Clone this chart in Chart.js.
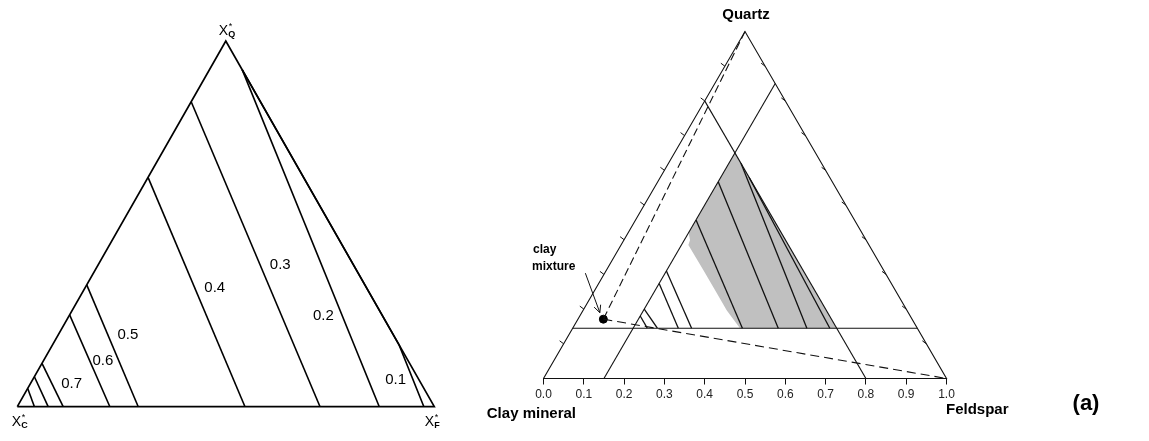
<!DOCTYPE html>
<html>
<head>
<meta charset="utf-8">
<script src="https://cdn.jsdelivr.net/npm/chart.js@4"></script>
<style>
  html, body { margin: 0; padding: 0; background: #fff; }
  #wrap { position: relative; width: 1149px; height: 441px; }
  canvas { position: absolute; top: 0; }
  #left { left: 0; }
  #right { left: 470px; }
</style>
</head>
<body>
<div id="wrap">
  <canvas id="left" width="470" height="441"></canvas>
  <canvas id="right" width="679" height="441"></canvas>
</div>
<script>
const FONT = '"Liberation Sans", Arial, sans-serif';

// Compositions are written as [quartz, feldspar]; clay is the remainder.
// Left diagram: contour lines, upper end first.
const leftTieValues = ['', '', '0.7', '0.6', '0.5', '0.4', '0.3', '0.2', '0.1'];
const leftTieLines = [
    [[0.050, 0], [0, 0.041]],
    [[0.082, 0], [0, 0.074]],
    [[0.1185, 0], [0, 0.110]],
    [[0.251, 0], [0, 0.222]],
    [[0.333, 0], [0, 0.290]],
    [[0.627, 0], [0, 0.546]],
    [[0.834, 0], [0, 0.726]],
    [[0.921, 0.079], [0, 0.868]],
    [[0.921, 0.079], [0.169, 0.831], [0, 0.975]]
];

// Right diagram
const baseTicks = [0.0, 0.1, 0.2, 0.3, 0.4, 0.5, 0.6, 0.7, 0.8, 0.9, 1.0];
const edgeTicks = [0.1, 0.2, 0.3, 0.4, 0.5, 0.6, 0.7, 0.8, 0.9];
const quartzCut = [[0.145, 0], [0.145, 0.855]];
const feldsparCut = [[0, 0.15], [0.85, 0.15]];
const clayCut = [[0, 0.8], [0.8, 0]];
const grayField = [
    [0.65, 0.15], [0.42, 0.15], [0.399, 0.164], [0.385, 0.167], [0.313, 0.240],
    [0.255, 0.298], [0.197, 0.356], [0.145, 0.415], [0.145, 0.655], [0.65, 0.15]
];
const rightTieLines = [
    [[0.18, 0.15], [0.145, 0.185]],
    [[0.20, 0.15], [0.145, 0.21]],
    [[0.274, 0.15], [0.145, 0.262]],
    [[0.31, 0.15], [0.145, 0.295]],
    [[0.457, 0.15], [0.145, 0.421]],
    [[0.567, 0.15], [0.145, 0.510]],
    [[0.62, 0.18], [0.145, 0.581]],
    [[0.58, 0.22], [0.145, 0.638]]
];
const clayMixture = [0.171, 0.063];

const frame = [[0, 0], [0, 1], [1, 0], [0, 0]];

// Ternary composition -> plot coordinates (x along the base, y = quartz)
function toPoint(c) {
    return { x: c[1] + c[0] / 2, y: c[0] };
}

function lineSet(comps, opts) {
    return Object.assign({
        data: comps.map(toPoint),
        borderColor: '#000',
        borderWidth: 1.6,
        pointRadius: 0,
        fill: false,
        clip: false,
        tension: 0
    }, opts);
}

// x position (plot units) on a polyline at a given quartz level
function xOnLine(line, q) {
    for (let i = 0; i < line.length - 1; i++) {
        const a = line[i], b = line[i + 1];
        if ((q <= a[0] && q >= b[0]) || (q >= a[0] && q <= b[0])) {
            const t = (q - a[0]) / (b[0] - a[0]);
            return toPoint([q, a[1] + t * (b[1] - a[1])]).x;
        }
    }
    return toPoint(line[line.length - 1]).x;
}

const hiddenScales = {
    x: { type: 'linear', min: 0, max: 1, display: false },
    y: { type: 'linear', min: 0, max: 1, display: false }
};

// Where the contour values sit: quartz level and sideways shift in px
const leftLabelSpots = [null, null,
    { q: 0.062, dx: 19.5 }, { q: 0.125, dx: 13 }, { q: 0.196, dx: 20 },
    { q: 0.325, dx: 20 }, { q: 0.387, dx: 20 }, { q: 0.248, dx: -19 }, { q: 0.073, dx: -17.5 }];

function drawVariable(ctx, sub, left, baseline) {
    ctx.font = '14px ' + FONT;
    ctx.textAlign = 'left';
    ctx.textBaseline = 'alphabetic';
    ctx.fillText('X', left, baseline);
    const w = ctx.measureText('X').width;
    ctx.font = '9px ' + FONT;
    ctx.fillText('*', left + w + 0.5, baseline - 6);
    ctx.font = 'bold 9px ' + FONT;
    ctx.fillText(sub, left + w, baseline + 2);
}

const leftLabels = {
    id: 'leftLabels',
    afterDatasetsDraw(chart) {
        const { ctx, scales: { x, y } } = chart;
        ctx.save();
        ctx.fillStyle = '#000';
        ctx.font = '15px ' + FONT;
        ctx.textAlign = 'center';
        ctx.textBaseline = 'middle';
        leftTieValues.forEach((txt, i) => {
            if (!txt) return;
            const spot = leftLabelSpots[i];
            const px = x.getPixelForValue(xOnLine(leftTieLines[i], spot.q)) + spot.dx;
            ctx.fillText(txt, px, y.getPixelForValue(spot.q));
        });
        const top = toPoint([1, 0]), lo = toPoint([0, 0]), hi = toPoint([0, 1]);
        drawVariable(ctx, 'Q', x.getPixelForValue(top.x) - 7, y.getPixelForValue(top.y) - 6);
        drawVariable(ctx, 'C', x.getPixelForValue(lo.x) - 5.5, y.getPixelForValue(0) + 19.5);
        drawVariable(ctx, 'F', x.getPixelForValue(hi.x) - 9.5, y.getPixelForValue(0) + 19.5);
        ctx.restore();
    }
};

new Chart(document.getElementById('left'), {
    type: 'line',
    data: {
        datasets: [lineSet(frame, { borderWidth: 1.7 })]
            .concat(leftTieLines.map(l => lineSet(l)))
    },
    options: {
        responsive: false,
        animation: false,
        events: [],
        layout: { padding: { left: 17.3, right: 35.7, top: 41, bottom: 34.3 } },
        scales: hiddenScales,
        plugins: { legend: { display: false }, tooltip: { enabled: false } }
    },
    plugins: [leftLabels]
});

const rightDecor = {
    id: 'rightDecor',
    afterDatasetsDraw(chart) {
        const { ctx, scales: { x, y } } = chart;
        const px = c => x.getPixelForValue(toPoint(c).x);
        const py = c => y.getPixelForValue(toPoint(c).y);
        ctx.save();
        ctx.strokeStyle = '#111';
        ctx.lineWidth = 1;
        // small ticks on the two sloping sides
        edgeTicks.forEach(q => {
            const l = [q, 0], r = [q, 1 - q];
            ctx.beginPath();
            ctx.moveTo(px(l), py(l));
            ctx.lineTo(px(l) - 4, py(l) - 3);
            ctx.moveTo(px(r), py(r));
            ctx.lineTo(px(r) - 4, py(r) - 3);
            ctx.stroke();
        });
        // arrow pointing at the mixture
        const dx = px(clayMixture), dy = py(clayMixture);
        const tip = [dx - 3.5, dy - 6.5], tail = [dx - 18, dy - 46];
        const ang = Math.atan2(tip[1] - tail[1], tip[0] - tail[0]);
        ctx.beginPath();
        ctx.moveTo(tail[0], tail[1]);
        ctx.lineTo(tip[0], tip[1]);
        [-0.45, 0.45].forEach(a => {
            ctx.moveTo(tip[0], tip[1]);
            ctx.lineTo(tip[0] - 8 * Math.cos(ang + a), tip[1] - 8 * Math.sin(ang + a));
        });
        ctx.stroke();

        ctx.fillStyle = '#000';
        ctx.font = 'bold 12px ' + FONT;
        ctx.textAlign = 'left';
        ctx.textBaseline = 'alphabetic';
        ctx.fillText('clay', 63, 253);
        ctx.fillText('mixture', 62, 270);

        ctx.font = 'bold 15px ' + FONT;
        ctx.textAlign = 'center';
        ctx.textBaseline = 'middle';
        ctx.fillText('Quartz', px([1, 0]) + 1, 15);
        ctx.textAlign = 'right';
        ctx.fillText('Clay mineral', x.getPixelForValue(0) + 32.5, 414);
        ctx.textAlign = 'left';
        ctx.fillText('Feldspar', x.getPixelForValue(1) - 0.5, 410);
        ctx.font = 'bold 22px ' + FONT;
        ctx.textAlign = 'center';
        ctx.fillText('(a)', 616, 404);
        ctx.restore();
    }
};

const mixPoint = [toPoint(clayMixture)];

new Chart(document.getElementById('right'), {
    type: 'line',
    data: {
        datasets: [
            lineSet(frame, { borderWidth: 1.1, borderColor: '#111' }),
            lineSet(quartzCut, { borderWidth: 1.1, borderColor: '#111' }),
            lineSet(feldsparCut, { borderWidth: 1.1, borderColor: '#111' }),
            lineSet(clayCut, { borderWidth: 1.1, borderColor: '#111' }),
            lineSet([[1, 0], clayMixture], { borderWidth: 1.1, borderColor: '#111', borderDash: [8, 4] }),
            lineSet([clayMixture, [0, 1]], { borderWidth: 1.1, borderColor: '#111', borderDash: [9, 5] }),
            {
                data: mixPoint, showLine: false, pointRadius: 4, pointBackgroundColor: '#000',
                pointBorderColor: '#000', clip: false
            }
        ].concat(rightTieLines.map(l => lineSet(l, { borderWidth: 1.3, borderColor: '#111' })))
         .concat([lineSet(grayField, {
            borderWidth: 0, borderColor: 'rgba(0,0,0,0)', backgroundColor: '#c0c0c0',
            fill: 'shape', order: 10
         })])
    },
    options: {
        responsive: false,
        animation: false,
        events: [],
        layout: { padding: { left: 73.5, right: 202.5, top: 31.5, bottom: 22.5 } },
        scales: {
            x: {
                type: 'linear', min: 0, max: 1,
                afterFit(scale) { scale.height = 40; },
                afterBuildTicks(scale) { scale.ticks = baseTicks.map(v => ({ value: v })); },
                ticks: {
                    callback: v => v.toFixed(1),
                    font: { size: 12, family: FONT },
                    color: '#222',
                    padding: 3,
                    maxRotation: 0,
                    autoSkip: false
                },
                grid: { drawOnChartArea: false, tickLength: 6, color: '#111', lineWidth: 1 },
                border: { display: true, color: '#111', width: 1 }
            },
            y: { type: 'linear', min: 0, max: 1, display: false }
        },
        plugins: { legend: { display: false }, tooltip: { enabled: false } }
    },
    plugins: [rightDecor]
});
</script>
</body>
</html>
